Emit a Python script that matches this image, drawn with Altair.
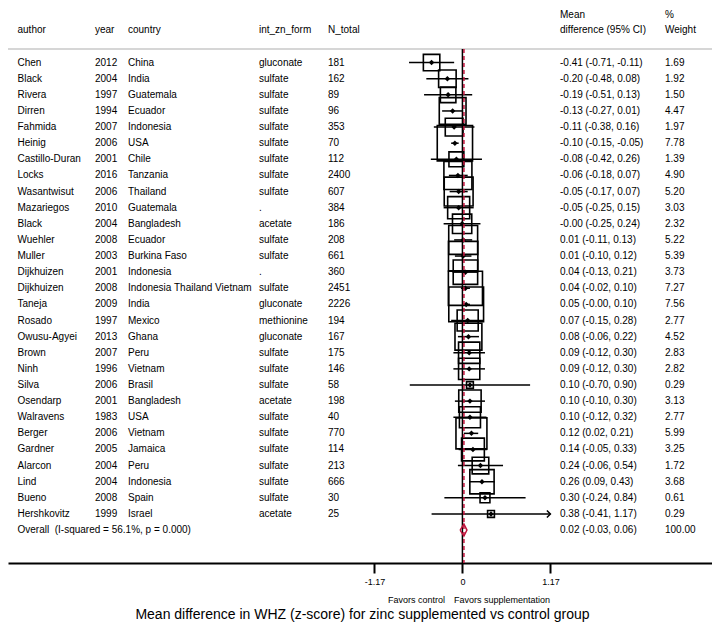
import altair as alt
import pandas as pd

# ---------------- data ----------------
authors = ["Chen", "Black", "Rivera", "Dirren", "Fahmida", "Heinig", "Castillo-Duran", "Locks",
           "Wasantwisut", "Mazariegos", "Black", "Wuehler", "Muller", "Dijkhuizen", "Dijkhuizen",
           "Taneja", "Rosado", "Owusu-Agyei", "Brown", "Ninh", "Silva", "Osendarp", "Walravens",
           "Berger", "Gardner", "Alarcon", "Lind", "Bueno", "Hershkovitz"]
years = [2012, 2004, 1997, 1994, 2007, 2006, 2001, 2016, 2006, 2010, 2004, 2008, 2003, 2001, 2008,
         2009, 1997, 2013, 2007, 1996, 2006, 2001, 1983, 2006, 2005, 2004, 2004, 2008, 1999]
countries = ["China", "India", "Guatemala", "Ecuador", "Indonesia", "USA", "Chile", "Tanzania",
             "Thailand", "Guatemala", "Bangladesh", "Ecuador", "Burkina Faso", "Indonesia",
             "Indonesia Thailand Vietnam", "India", "Mexico", "Ghana", "Peru", "Vietnam", "Brasil",
             "Bangladesh", "USA", "Vietnam", "Jamaica", "Peru", "Indonesia", "Spain", "Israel"]
forms = ["gluconate", "sulfate", "sulfate", "sulfate", "sulfate", "sulfate", "sulfate", "sulfate",
         "sulfate", ".", "acetate", "sulfate", "sulfate", ".", "sulfate", "gluconate", "methionine",
         "gluconate", "sulfate", "sulfate", "sulfate", "acetate", "sulfate", "sulfate", "sulfate",
         "sulfate", "sulfate", "sulfate", "acetate"]
n_total = [181, 162, 89, 96, 353, 70, 112, 2400, 607, 384, 186, 208, 661, 360, 2451, 2226, 194,
           167, 175, 146, 58, 198, 40, 770, 114, 213, 666, 30, 25]
est = [-0.41, -0.20, -0.19, -0.13, -0.11, -0.10, -0.08, -0.06, -0.05, -0.05, -0.004, 0.01, 0.01,
       0.04, 0.04, 0.05, 0.07, 0.08, 0.09, 0.09, 0.10, 0.10, 0.10, 0.12, 0.14, 0.24, 0.26, 0.30, 0.38]
lo = [-0.71, -0.48, -0.51, -0.27, -0.38, -0.15, -0.42, -0.18, -0.17, -0.25, -0.25, -0.11, -0.10,
      -0.13, -0.02, -0.004, -0.15, -0.06, -0.12, -0.12, -0.70, -0.10, -0.12, 0.02, -0.05, -0.06,
      0.09, -0.24, -0.41]
hi = [-0.11, 0.08, 0.13, 0.01, 0.16, -0.05, 0.26, 0.07, 0.07, 0.15, 0.24, 0.13, 0.12, 0.21, 0.10,
      0.10, 0.28, 0.22, 0.30, 0.30, 0.90, 0.30, 0.32, 0.21, 0.33, 0.54, 0.43, 0.84, 1.17]
weights = [1.69, 1.92, 1.50, 4.47, 1.97, 7.78, 1.39, 4.90, 5.20, 3.03, 2.32, 5.22, 5.39, 3.73, 7.27,
           7.56, 2.77, 4.52, 2.83, 2.82, 0.29, 3.13, 2.77, 5.99, 3.25, 1.72, 3.68, 0.61, 0.29]

overall_label = "Overall\u00a0 (I-squared = 56.1%, p = 0.000)"
overall_est = 0.02
overall_lo = -0.03
overall_hi = 0.06
overall_weight = 100.00

tick_values = [-1.17, 0, 1.17]
x_limit = 1.17
x_title = "Mean difference in WHZ (z-score) for zinc supplemented vs control group"
favors_left = "Favors control"
favors_right = "Favors supplementation"

# ---------------- tables ----------------
def f2(v):
    return f"{v:.2f}"

studies = pd.DataFrame({
    "author": authors, "year": [str(y) for y in years], "country": countries, "form": forms,
    "n": [str(v) for v in n_total], "est": est, "lo": lo, "hi": hi, "weight": weights,
})
studies["row"] = range(len(studies))
studies["effect"] = [f"{f2(e)} ({f2(a)}, {f2(b)})" for e, a, b in zip(est, lo, hi)]
studies["wtxt"] = [f2(w) for w in weights]

ov_row = len(studies)
overall = pd.DataFrame({"author": [overall_label], "row": [ov_row], "est": [overall_est],
                        "effect": [f"{f2(overall_est)} ({f2(overall_lo)}, {f2(overall_hi)})"],
                        "wtxt": [f2(overall_weight)]})
DH = 0.37
diamond = pd.DataFrame({
    "x": [overall_lo, overall_est, overall_hi, overall_est, overall_lo],
    "y": [ov_row, ov_row - DH, ov_row, ov_row + DH, ov_row],
    "o": [0, 1, 2, 3, 4],
})
textrows = pd.concat([studies, overall], ignore_index=True)

# ---------------- layout ----------------
W, H = 704, 555
XDOM = [-6.043, 3.319]
YDOM = [-3.387, 31.042]
RED = "#c0143c"
FONT = "Liberation Sans"

xs = alt.Scale(domain=XDOM, nice=False, zero=False)
ys = alt.Scale(domain=YDOM, nice=False, zero=False, reverse=True)
Y = alt.Y("row:Q", scale=ys, axis=None)

x_axis = alt.Axis(
    values=tick_values,
    labelExpr="datum.value < 0 ? '-' + format(-datum.value, '.2f') : (datum.value == 0 ? '0' : format(datum.value, '.2f'))",
    title=x_title, grid=False, domainColor="black", domainWidth=2, tickColor="black",
    tickWidth=2, tickSize=10, labelFontSize=9, labelPadding=4, labelColor="black",
    labelFont=FONT, titleFont=FONT, titleFontSize=14, titleFontWeight="normal",
    titleColor="black", titleY=51, titleX=354, titleBaseline="middle",
)


def X(field):
    return alt.X(field, scale=xs, axis=x_axis, title=x_title)


base = alt.Chart(studies)

ci = base.mark_rule(color="black", strokeWidth=1.5).encode(x=X("lo:Q"), x2="hi:Q", y=Y)

boxes = base.mark_point(shape="square", filled=False, color="black", strokeWidth=1.6, opacity=1).encode(
    x=X("est:Q"), y=Y,
    size=alt.Size("weight:Q", scale=alt.Scale(domain=[0, 10], range=[0, 1600]), legend=None))

pts = base.mark_point(shape="diamond", filled=True, color="black", size=30, opacity=1).encode(
    x=X("est:Q"), y=Y)

arrows = base.transform_filter(f"datum.hi >= {x_limit}").mark_point(
    shape="M-1,-1L0,0L-1,1", filled=False, color="black", strokeWidth=1.5, size=49, opacity=1
).encode(x=X("hi:Q"), y=Y)

null_line = alt.Chart(pd.DataFrame({"v": [0.0]})).mark_rule(color="black", strokeWidth=1.5).encode(
    x=X("v:Q"), y=alt.value(41), y2=alt.value(H))

ov_line = alt.Chart(overall).mark_rule(color=RED, strokeWidth=1.5, strokeDash=[4, 3]).encode(
    x=X("est:Q"), y=alt.value(41), y2=alt.value(H))

dia = alt.Chart(diamond).mark_line(color=RED, strokeWidth=1.5).encode(
    x=X("x:Q"), y=alt.Y("y:Q", scale=ys, axis=None), order="o:Q")

header_line = alt.Chart(pd.DataFrame({"k": [0]})).mark_rule(color="#c8c8c8", strokeWidth=1.5).encode(
    x=alt.value(-1), x2=alt.value(W), y=alt.value(41))


def col(field, xpx, data=textrows):
    return alt.Chart(data).mark_text(align="left", baseline="middle", fontSize=10, color="black",
                                     font=FONT).encode(x=alt.value(xpx), y=Y, text=f"{field}:N")


text_layers = [
    col("author", 9.5),
    col("year", 87, studies),
    col("country", 120, studies),
    col("form", 251, studies),
    col("n", 320, studies),
    col("effect", 552),
    col("wtxt", 657),
]

headers = [("author", 9.5, 22), ("year", 87, 22), ("country", 120, 22), ("int_zn_form", 251, 22),
           ("N_total", 320, 22), ("Mean", 552, 7), ("difference (95% CI)", 552, 22),
           ("%", 657, 7), ("Weight", 657, 22)]
header_layers = [
    alt.Chart(pd.DataFrame({"t": [t]})).mark_text(align="left", baseline="middle", fontSize=10,
                                                  color="black", font=FONT).encode(
        x=alt.value(xp), y=alt.value(yp), text="t:N")
    for t, xp, yp in headers
]

favors = alt.Chart(pd.DataFrame({"v": [0.0], "a": [favors_left], "b": [favors_right]}))
fav_l = favors.mark_text(align="right", baseline="middle", fontSize=9, color="black", font=FONT,
                         dx=-17.5).encode(x=X("v:Q"), y=alt.value(592), text="a:N")
fav_r = favors.mark_text(align="left", baseline="middle", fontSize=9, color="black", font=FONT,
                         dx=-8.5).encode(x=X("v:Q"), y=alt.value(592), text="b:N")

chart = alt.layer(
    header_line, boxes, ci, pts, arrows, null_line, ov_line, dia, fav_l, fav_r,
    *text_layers, *header_layers
).properties(
    width=W, height=H,
    autosize=alt.AutoSizeParams(type="none"),
    padding={"left": 0, "top": 0, "right": 0, "bottom": 61},
).configure(font=FONT, view=alt.ViewConfig(stroke=None))

chart.save("out.html", embed_options={"renderer": "svg", "actions": False})
